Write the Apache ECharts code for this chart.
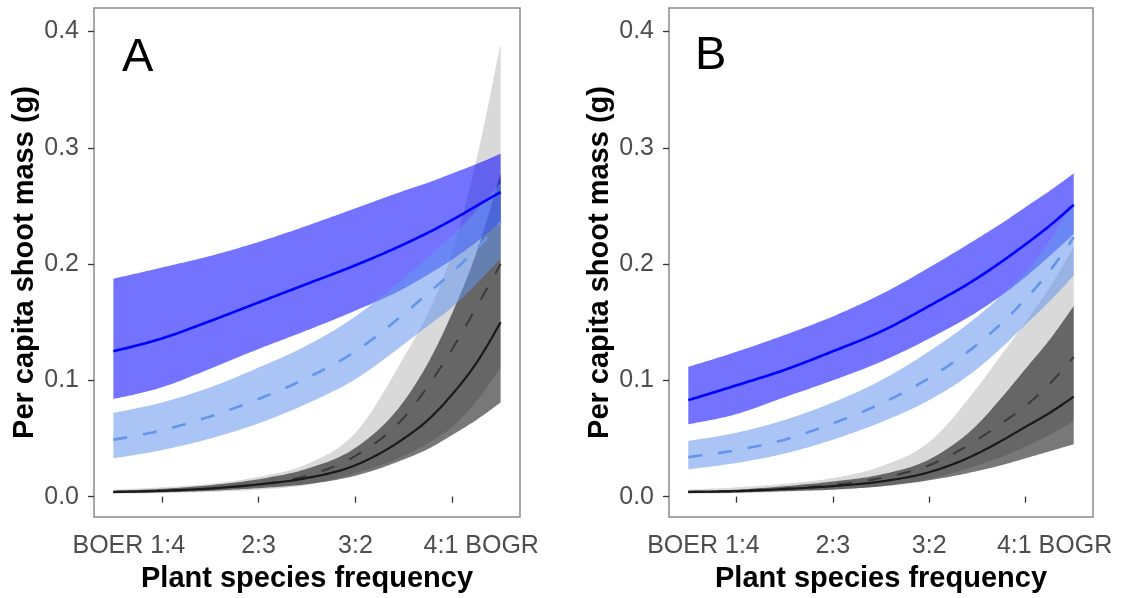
<!DOCTYPE html>
<html>
<head>
<meta charset="utf-8">
<script src="https://cdn.jsdelivr.net/npm/echarts@6/dist/echarts.min.js"></script>
<style>
html,body{margin:0;padding:0;background:#fff;}
#c{width:1123px;height:598px;}
</style>
</head>
<body>
<div id="c"></div>
<script>
// ---- data ----
const xs = [0.1, 0.2, 0.3, 0.4, 0.5, 0.6, 0.7, 0.75, 0.8, 0.85, 0.9];
const xTickValues = [0.2, 0.4, 0.6, 0.8];
const xTickLabels = ['BOER 1:4', '2:3', '3:2', '4:1 BOGR'];
const yTickValues = [0, 0.1, 0.2, 0.3, 0.4];
const panelLabels = ['A', 'B'];

// Panel A
const A_blueFit  = [0.125, 0.136, 0.151, 0.167, 0.183, 0.199, 0.217, 0.227, 0.238, 0.250, 0.262];
const A_blueHi   = [0.1875,0.197, 0.207, 0.219, 0.233, 0.248, 0.263, 0.270, 0.278, 0.286, 0.295];
const A_blueLo   = [0.084, 0.094, 0.110, 0.127, 0.143, 0.160, 0.179, 0.191, 0.204, 0.219, 0.236];
const A_lbFit    = [0.049, 0.057, 0.069, 0.084, 0.102, 0.125, 0.157, 0.175, 0.193, 0.213, 0.236];
const A_lbHi     = [0.072, 0.081, 0.094, 0.111, 0.130, 0.155, 0.188, 0.206, 0.225, 0.246, 0.270];
const A_lbLo     = [0.033, 0.040, 0.050, 0.063, 0.080, 0.101, 0.131, 0.147, 0.163, 0.183, 0.205];
const A_blackFit = [0.004, 0.005, 0.007, 0.0105,0.016, 0.027, 0.050, 0.066, 0.088, 0.115, 0.150];
const A_dgHi     = [0.005, 0.0067,0.0098,0.015, 0.024, 0.042, 0.082, 0.115, 0.158, 0.210, 0.278];
const A_dgLo     = [0.003, 0.0037,0.005, 0.0073,0.0107,0.018, 0.032, 0.041, 0.053, 0.066, 0.081];
const A_dashFit  = [0.004, 0.005, 0.0068,0.0105,0.018, 0.035, 0.068, 0.095, 0.127, 0.163, 0.200];
const A_lgHi     = [0.006, 0.008, 0.011, 0.017, 0.028, 0.055, 0.120, 0.158, 0.210, 0.290, 0.390];
const A_lgLo     = [0.0025,0.003, 0.004, 0.006, 0.010, 0.020, 0.035, 0.046, 0.060, 0.082, 0.111];

// Panel B
const B_blueFit  = [0.083, 0.0957,0.109, 0.125, 0.142, 0.164, 0.188, 0.202, 0.217, 0.233, 0.251];
const B_blueHi   = [0.1116,0.1246,0.139, 0.155, 0.174, 0.197, 0.222, 0.235, 0.249, 0.263, 0.278];
const B_blueLo   = [0.0623,0.071, 0.0855,0.100, 0.116, 0.136, 0.159, 0.173, 0.189, 0.207, 0.226];
const B_lbFit    = [0.034, 0.040, 0.049, 0.063, 0.080, 0.102, 0.131, 0.149, 0.170, 0.194, 0.223];
const B_lbHi     = [0.048, 0.055, 0.066, 0.081, 0.100, 0.125, 0.155, 0.173, 0.193, 0.220, 0.255];
const B_lbLo     = [0.0235,0.029, 0.037, 0.049, 0.064, 0.083, 0.110, 0.128, 0.148, 0.168, 0.190];
const B_blackFit = [0.004, 0.0047,0.0065,0.009, 0.013, 0.021, 0.037, 0.048, 0.060, 0.072, 0.086];
const B_dgHi     = [0.005, 0.006, 0.009, 0.013, 0.019, 0.032, 0.062, 0.085, 0.110, 0.135, 0.164];
const B_dgLo     = [0.003, 0.0035,0.0047,0.006, 0.0088,0.014, 0.022, 0.027, 0.033, 0.039, 0.045];
const B_dashFit  = [0.004, 0.005, 0.007, 0.010, 0.016, 0.027, 0.049, 0.063, 0.078, 0.097, 0.120];
const B_lgHi     = [0.006, 0.008, 0.011, 0.016, 0.026, 0.047, 0.094, 0.122, 0.150, 0.180, 0.215];
const B_lgLo     = [0.0025,0.003, 0.004, 0.006, 0.009, 0.015, 0.027, 0.034, 0.043, 0.053, 0.065];

const panels = [
  {blueFit:A_blueFit, blueHi:A_blueHi, blueLo:A_blueLo, lbFit:A_lbFit, lbHi:A_lbHi, lbLo:A_lbLo,
   blackFit:A_blackFit, dgHi:A_dgHi, dgLo:A_dgLo, dashFit:A_dashFit, lgHi:A_lgHi, lgLo:A_lgLo},
  {blueFit:B_blueFit, blueHi:B_blueHi, blueLo:B_blueLo, lbFit:B_lbFit, lbHi:B_lbHi, lbLo:B_lbLo,
   blackFit:B_blackFit, dgHi:B_dgHi, dgLo:B_dgLo, dashFit:B_dashFit, lgHi:B_lgHi, lgLo:B_lgLo}
];

// ---- styling ----
const FONT = 'Liberation Sans, Arial, sans-serif';
const TICK_COLOR = '#333333';
const LABEL_COLOR = '#4d4d4d';

// monotone cubic curve through pixel points (rendering only)
function curve(pts) {
  const n = pts.length;
  if (n < 3) return pts.slice();
  const h = [], s = [];
  for (let i = 0; i < n - 1; i++) {
    h.push(pts[i+1][0] - pts[i][0]);
    s.push((pts[i+1][1] - pts[i][1]) / h[i]);
  }
  const m = new Array(n);
  for (let i = 1; i < n - 1; i++) {
    const p = (s[i-1] * h[i] + s[i] * h[i-1]) / (h[i-1] + h[i]);
    m[i] = (Math.sign(s[i-1]) + Math.sign(s[i])) * Math.min(Math.abs(s[i-1]), Math.abs(s[i]), 0.5 * Math.abs(p)) || 0;
  }
  m[0] = (3 * s[0] - m[1]) / 2;
  m[n-1] = (3 * s[n-2] - m[n-2]) / 2;
  const out = [];
  const STEPS = 16;
  for (let i = 0; i < n - 1; i++) {
    const x0 = pts[i][0], y0 = pts[i][1], y1 = pts[i+1][1], hh = h[i];
    for (let k = 0; k < STEPS; k++) {
      const t = k / STEPS, t2 = t*t, t3 = t2*t;
      const h00 = 2*t3 - 3*t2 + 1, h10 = t3 - 2*t2 + t, h01 = -2*t3 + 3*t2, h11 = t3 - t2;
      out.push([x0 + t*hh, h00*y0 + h10*hh*m[i] + h01*y1 + h11*hh*m[i+1]]);
    }
  }
  out.push(pts[n-1].slice());
  return out;
}

function bandSeries(g, lo, hi, color, z) {
  return {
    type:'custom', xAxisIndex:g, yAxisIndex:g, z:z, silent:true,
    data: xs.map((x,i) => [x, lo[i], hi[i]]),
    encode:{x:0, y:[1,2]},
    renderItem: (params, api) => {
      if (params.dataIndexInside !== 0) return null;
      const n = params.dataInsideLength;
      const up = [], dn = [];
      for (let j = 0; j < n; j++) {
        up.push(api.coord([api.value(0, j), api.value(2, j)]));
        dn.push(api.coord([api.value(0, j), api.value(1, j)]));
      }
      const pts = curve(up).concat(curve(dn).reverse());
      return {type:'polygon', shape:{points:pts}, style:{fill:color, stroke:null}};
    }
  };
}

function lineSeries(g, fit, color, width, dash, z) {
  return {
    type:'custom', xAxisIndex:g, yAxisIndex:g, z:z, silent:true,
    data: xs.map((x,i) => [x, fit[i]]),
    encode:{x:0, y:1},
    renderItem: (params, api) => {
      if (params.dataIndexInside !== 0) return null;
      const n = params.dataInsideLength;
      const p = [];
      for (let j = 0; j < n; j++) p.push(api.coord([api.value(0, j), api.value(1, j)]));
      return {type:'polyline', shape:{points:curve(p)},
        style:{stroke:color, lineWidth:width, fill:null, lineDash:dash, lineCap:'butt', lineJoin:'round'}};
    }
  };
}

const series = [];
panels.forEach((p, g) => {
  series.push(bandSeries(g, p.lgLo, p.lgHi, 'rgba(0,0,0,0.15)', 2));
  series.push(bandSeries(g, p.dgLo, p.dgHi, 'rgba(0,0,0,0.53)', 2));
  series.push(bandSeries(g, p.blueLo, p.blueHi, 'rgba(0,0,255,0.55)', 2));
  series.push(bandSeries(g, p.lbLo, p.lbHi, 'rgba(100,149,237,0.55)', 2));
  series.push(lineSeries(g, p.dashFit, '#3a3a3a', 2, [14,16], 5));
  series.push(lineSeries(g, p.blackFit, '#1a1a1a', 2.2, null, 5));
  series.push(lineSeries(g, p.lbFit, '#6495ed', 2.6, [14,16], 5));
  series.push(lineSeries(g, p.blueFit, '#0000ff', 2.6, null, 5));
});

const grids = [
  {left:94, right:603, top:8, bottom:78},
  {left:669, right:30, top:8, bottom:78}
];

function xLabelFmt(v) {
  const i = xTickValues.findIndex(t => Math.abs(t - v) < 1e-6);
  if (i < 0) return '';
  if (i === 0) return '{l|' + xTickLabels[i] + '}';
  if (i === xTickLabels.length - 1) return '{r|' + xTickLabels[i] + '}';
  return xTickLabels[i];
}

const xAxes = grids.map((_, g) => ({
  gridIndex:g, type:'value', min:0.06, max:0.94,
  axisLine:{show:false}, splitLine:{show:false},
  axisTick:{show:true, customValues:xTickValues, length:6, lineStyle:{color:TICK_COLOR, width:1.3}},
  axisLabel:{customValues:xTickValues, formatter:xLabelFmt, margin:17, fontSize:25, color:LABEL_COLOR, fontFamily:FONT,
    rich:{
      l:{padding:[0,66,0,0], fontSize:25, color:LABEL_COLOR, fontFamily:FONT},
      r:{padding:[0,0,0,58], fontSize:25, color:LABEL_COLOR, fontFamily:FONT}
    }},
  name:'Plant species frequency', nameLocation:'middle', nameGap:47,
  nameTextStyle:{fontSize:29, fontWeight:'bold', color:'#000', fontFamily:FONT}
}));

const yAxes = grids.map((_, g) => ({
  gridIndex:g, type:'value', min:-0.01753, max:0.42027,
  axisLine:{show:false}, splitLine:{show:false},
  axisTick:{show:true, customValues:yTickValues, length:6, lineStyle:{color:TICK_COLOR, width:1.3}},
  axisLabel:{customValues:yTickValues, formatter:v => v.toFixed(1), margin:15, fontSize:25, color:LABEL_COLOR, fontFamily:FONT},
  name:'Per capita shoot mass (g)', nameLocation:'middle', nameGap:55,
  nameTextStyle:{fontSize:29, fontWeight:'bold', color:'#000', fontFamily:FONT}
}));

const chart = echarts.init(document.getElementById('c'), null, {renderer:'canvas'});
chart.setOption({
  animation:false,
  backgroundColor:'#ffffff',
  title: [
    {text:panelLabels[0], left:122, top:35, padding:0, textStyle:{fontSize:47, fontWeight:'normal', color:'#000', fontFamily:FONT}},
    {text:panelLabels[1], left:695, top:33, padding:0, textStyle:{fontSize:47, fontWeight:'normal', color:'#000', fontFamily:FONT}}
  ],
  grid: grids.map(gr => Object.assign({show:true, borderColor:'#8a8a8a', borderWidth:1.5, backgroundColor:'transparent'}, gr)),
  xAxis: xAxes,
  yAxis: yAxes,
  series: series
});
</script>
</body>
</html>
